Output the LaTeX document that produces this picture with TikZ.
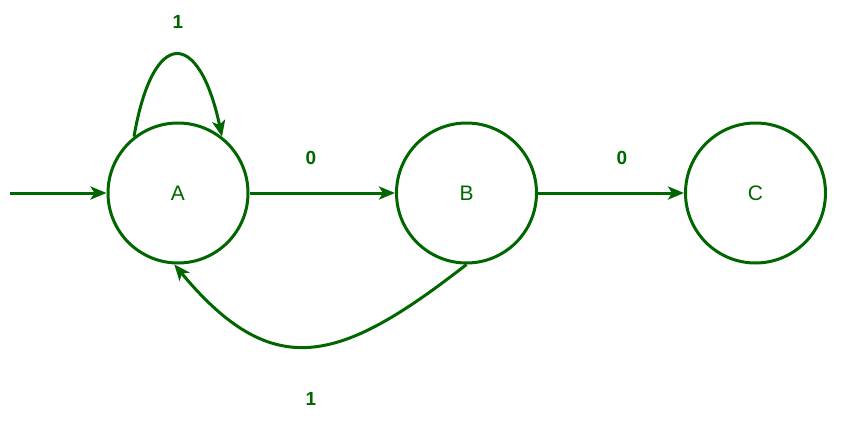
\documentclass[tikz,border=0pt]{standalone}
\usepackage{fontspec}
\setmainfont{Liberation Sans}
\usetikzlibrary{arrows.meta}
\definecolor{dg}{HTML}{006600}
\begin{document}
\begin{tikzpicture}[x=1pt,y=-1pt,
  state/.style={circle,draw=dg,line width=3pt,minimum size=140pt,inner sep=0pt,text=dg,font=\fontsize{21}{24}\selectfont},
  edge/.style={draw=dg,line width=3pt,-{Stealth[length=16pt,width=13pt,inset=4pt]}},
  lbl/.style={text=dg,font=\fontsize{19}{22}\selectfont\bfseries}]
\useasboundingbox (0,0) rectangle (849,434);
\node[state] (A) at (178,193) {A};
\node[state] (B) at (466.5,193) {B};
\node[state] (C) at (755.5,193) {C};
\coordinate (s) at (10,193);
\draw[edge] (s) -- (A.west);
\draw[edge] (A.east) -- (B.west);
\draw[edge] (B.east) -- (C.west);
\draw[edge] (A.128) .. controls +(19,-110) and +(-23,-108) .. (A.52);
\draw[edge] (B.south) .. controls +(-127,99) and +(99,119) .. (A.267);
\node[lbl] (l1) at (178,22) {1};
\node[lbl] (l2) at (311,158) {0};
\node[lbl] (l3) at (622,158) {0};
\node[lbl] (l4) at (311,399) {1};
\end{tikzpicture}
\end{document}
